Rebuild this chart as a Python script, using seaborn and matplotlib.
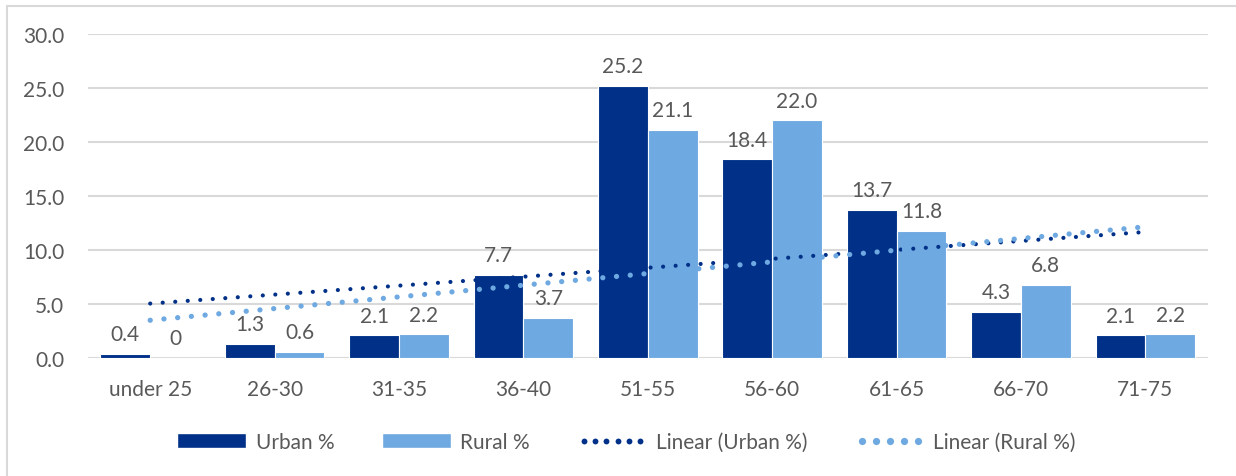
import numpy as np
import pandas as pd
import matplotlib
matplotlib.use("Agg")
import matplotlib.pyplot as plt
import seaborn as sns
from matplotlib.lines import Line2D
from matplotlib.patches import Patch
from matplotlib.legend_handler import HandlerLine2D

categories = ["under 25", "26-30", "31-35", "36-40", "51-55", "56-60", "61-65", "66-70", "71-75"]
urban = [0.4, 1.3, 2.1, 7.7, 25.2, 18.4, 13.7, 4.3, 2.1]
rural = [0.0, 0.6, 2.2, 3.7, 21.1, 22.0, 11.8, 6.8, 2.2]
urban_labels = ["0.4", "1.3", "2.1", "7.7", "25.2", "18.4", "13.7", "4.3", "2.1"]
rural_labels = ["0", "0.6", "2.2", "3.7", "21.1", "22.0", "11.8", "6.8", "2.2"]
yticks = [0, 5, 10, 15, 20, 25, 30]

URBAN_C = "#003087"
RURAL_C = "#6FA9E1"
TEXT_C = "#595959"
GRID_C = "#D9D9D9"
FS = 15

sns.set_theme(style="white")
plt.rcParams["font.family"] = ["Lato", "DejaVu Sans"]

df = pd.DataFrame({
    "age": categories * 2,
    "value": urban + rural,
    "series": ["Urban %"] * len(categories) + ["Rural %"] * len(categories),
})

fig = plt.figure(figsize=(12.36, 4.77), dpi=100)
ax = fig.add_axes([0.0712, 0.2474, 0.9058, 0.6792])

sns.barplot(data=df, x="age", y="value", hue="series", order=categories,
            hue_order=["Urban %", "Rural %"], palette=[URBAN_C, RURAL_C],
            saturation=1, width=0.8, edgecolor="white", linewidth=0.8, ax=ax,
            legend=False, errorbar=None, zorder=2)

# data labels
for cont, labels in zip(ax.containers, [urban_labels, rural_labels]):
    for bar, lab in zip(cont, labels):
        ax.annotate(lab, (bar.get_x() + bar.get_width() / 2, bar.get_height()),
                    xytext=(0, 7), textcoords="offset points", ha="center", va="bottom",
                    fontsize=FS, color=TEXT_C, zorder=5)

# linear trendlines
xs = np.arange(len(categories))
xfit = xs + 1
for vals, col, lw, gap in [(urban, URBAN_C, 3.0, 3.0), (rural, RURAL_C, 3.8, 2.6)]:
    k, b = np.polyfit(xfit, vals, 1)
    ax.plot(xs, k * xfit + b, color=col, linewidth=lw, linestyle=(0, (0.01, gap)),
            dash_capstyle="round", zorder=4)

ax.set_ylim(0, 30)
ax.set_xlim(-0.5, len(categories) - 0.5)
ax.set_yticks(yticks)
ax.set_yticklabels([f"{v:.1f}" for v in yticks])
ax.yaxis.grid(True, color=GRID_C, linewidth=1.5, zorder=0)
ax.set_axisbelow(True)
for s in ax.spines.values():
    s.set_visible(False)
ax.tick_params(axis="both", length=0, labelsize=FS, labelcolor=TEXT_C)
ax.tick_params(axis="y", pad=17)
ax.tick_params(axis="x", pad=15)
ax.set_xlabel("")
ax.set_ylabel("")

h_urb_trend = Line2D([0], [0], color=URBAN_C, linestyle="none", marker="o", markersize=4.2,
                     markeredgewidth=0, label="Linear (Urban %)")
h_rur_trend = Line2D([0], [0], color=RURAL_C, linestyle="none", marker="o", markersize=5.2,
                     markeredgewidth=0, label="Linear (Rural %)")
handles = [
    Patch(facecolor=URBAN_C, label="Urban %"),
    Patch(facecolor=RURAL_C, label="Rural %"),
    h_urb_trend,
    h_rur_trend,
]
leg = fig.legend(handles=handles, loc="center", bbox_to_anchor=(0.507, 1 - 443 / 477), ncol=4,
                 frameon=False, fontsize=FS, handlelength=3.3, handletextpad=0.45,
                 columnspacing=2.3, handleheight=0.75,
                 handler_map={h_urb_trend: HandlerLine2D(numpoints=6),
                              h_rur_trend: HandlerLine2D(numpoints=5)})
for t in leg.get_texts():
    t.set_color(TEXT_C)

# chart frame (top and left edges visible)
fig.add_artist(Line2D([6.5 / 1236, 6.5 / 1236], [0, 1 - 6.5 / 477], transform=fig.transFigure, color=GRID_C, lw=1.5))
fig.add_artist(Line2D([6.5 / 1236, 1], [1 - 6.5 / 477, 1 - 6.5 / 477], transform=fig.transFigure, color=GRID_C, lw=1.5))

fig.savefig("out.png", dpi=100, facecolor="white")
